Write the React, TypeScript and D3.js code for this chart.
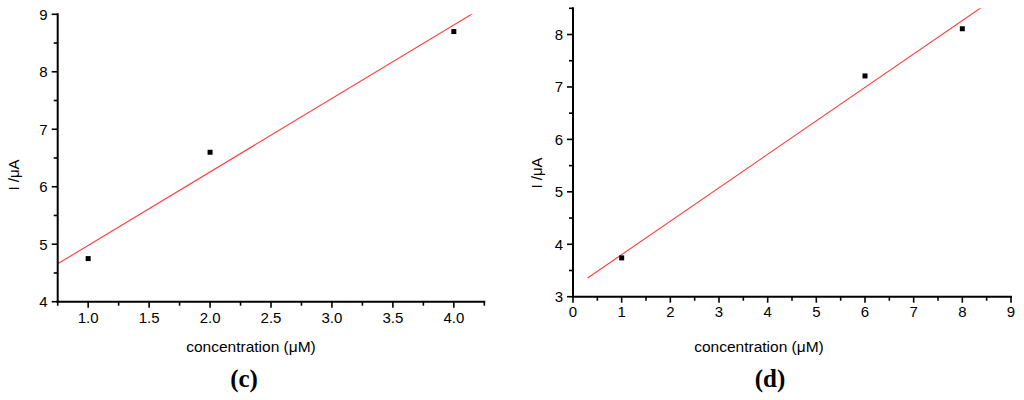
import { useRef, useEffect } from 'react';
import * as d3 from 'd3';

// panel (c)
const concC = [1, 2, 4];
const currentC = [4.75, 6.6, 8.7];
const xDomainC = [0.75, 4.25];
const yDomainC = [4, 9];
const xTicksC = [1.0, 1.5, 2.0, 2.5, 3.0, 3.5, 4.0];
const yTicksC = [4, 5, 6, 7, 8, 9];
const fitRangeC = [0.75, 4.25];

// panel (d)
const concD = [1, 6, 8];
const currentD = [3.74, 7.21, 8.11];
const xDomainD = [0, 9];
const yDomainD = [3, 8.5];
const xTicksD = [0, 1, 2, 3, 4, 5, 6, 7, 8, 9];
const yTicksD = [3, 4, 5, 6, 7, 8];
const fitRangeD = [0.3, 8.5];

const FONT = '"Liberation Sans", Arial, sans-serif';

function isMajor(v, ticks) {
  return ticks.some(t => Math.abs(t - v) < 1e-6);
}

function drawPanel(svg, o) {
  const x = d3.scaleLinear().domain(o.xDomain).range(o.xRange);
  const y = d3.scaleLinear().domain(o.yDomain).range(o.yRange);
  const g = svg.append('g');

  const clipId = 'clip-' + o.id;
  svg.append('clipPath').attr('id', clipId).append('rect')
    .attr('x', o.xRange[0]).attr('y', o.yRange[1])
    .attr('width', o.xRange[1] - o.xRange[0]).attr('height', o.yRange[0] - o.yRange[1]);

  // least squares fit line
  const xm = d3.mean(o.xs), ym = d3.mean(o.ys);
  const num = d3.sum(o.xs, (v, i) => (v - xm) * (o.ys[i] - ym));
  const den = d3.sum(o.xs, v => (v - xm) ** 2);
  const slope = num / den;
  const icpt = ym - slope * xm;
  g.append('line')
    .attr('clip-path', `url(#${clipId})`)
    .attr('x1', x(o.fitRange[0])).attr('y1', y(icpt + slope * o.fitRange[0]))
    .attr('x2', x(o.fitRange[1])).attr('y2', y(icpt + slope * o.fitRange[1]))
    .attr('stroke', '#ff3b3b').attr('stroke-width', 1.1);

  // points
  g.selectAll('rect.pt').data(o.xs).enter().append('rect')
    .attr('class', 'pt')
    .attr('x', (d) => x(d) - 2.5)
    .attr('y', (d, i) => y(o.ys[i]) - 2.5)
    .attr('width', 5).attr('height', 5)
    .attr('fill', '#000');

  // x axis
  const xa = g.append('g').attr('transform', `translate(0,${o.yRange[0]})`);
  xa.append('line').attr('x1', o.xRange[0] - 1).attr('x2', o.xRange[1] + 1)
    .attr('stroke', '#000').attr('stroke-width', 2);
  const xMinor = d3.range(o.xDomain[0], o.xDomain[1] + 1e-9, o.xMinorStep);
  xa.selectAll('line.tk').data(xMinor).enter().append('line')
    .attr('x1', d => x(d)).attr('x2', d => x(d))
    .attr('y1', 0).attr('y2', d => (isMajor(d, o.xTicks) ? 6 : 4))
    .attr('stroke', '#000').attr('stroke-width', 1.6);
  xa.selectAll('text').data(o.xTicks).enter().append('text')
    .attr('x', d => x(d)).attr('y', o.xLabelDy)
    .attr('text-anchor', 'middle').attr('font-family', FONT).attr('font-size', 15)
    .text(d => o.xFormat(d));

  // y axis
  const ya = g.append('g').attr('transform', `translate(${o.xRange[0]},0)`);
  ya.append('line').attr('y1', o.yRange[0] + 1).attr('y2', o.yRange[1] - 1)
    .attr('stroke', '#000').attr('stroke-width', 2);
  const yMinor = d3.range(o.yDomain[0], o.yDomain[1] + 1e-9, 0.5);
  ya.selectAll('line.tk').data(yMinor).enter().append('line')
    .attr('y1', d => y(d)).attr('y2', d => y(d))
    .attr('x1', 0).attr('x2', d => (isMajor(d, o.yTicks) ? -6 : -4))
    .attr('stroke', '#000').attr('stroke-width', 1.6);
  ya.selectAll('text').data(o.yTicks).enter().append('text')
    .attr('x', -10).attr('y', d => y(d)).attr('dy', '0.36em')
    .attr('text-anchor', 'end').attr('font-family', FONT).attr('font-size', 15)
    .text(d => String(d));

  // titles
  g.append('text')
    .attr('transform', `translate(${o.yTitleX},${o.yTitleY}) rotate(-90)`)
    .attr('text-anchor', 'middle').attr('dy', '0.36em')
    .attr('font-family', FONT).attr('font-size', 15)
    .text('I /μA');
  g.append('text')
    .attr('x', o.xTitleX).attr('y', 346).attr('dy', '0.36em')
    .attr('text-anchor', 'middle').attr('font-family', FONT).attr('font-size', 15.5)
    .text('concentration (μM)');
  g.append('text')
    .attr('x', o.capX).attr('y', 378).attr('dy', '0.36em')
    .attr('text-anchor', 'middle').attr('font-family', '"Liberation Serif", "Times New Roman", serif')
    .attr('font-size', 25).attr('font-weight', 'bold')
    .text(o.caption);
}

export default function App() {
  const svgRef = useRef(null);

  useEffect(() => {
    const svg = d3.select(svgRef.current);
    svg.selectAll('*').remove();

    drawPanel(svg, {
      id: 'c', xs: concC, ys: currentC,
      xDomain: xDomainC, yDomain: yDomainC,
      xRange: [57.7, 484.3], yRange: [301.7, 14.3],
      xTicks: xTicksC, yTicks: yTicksC, xMinorStep: 0.25,
      xFormat: d3.format('.1f'), xLabelDy: 21,
      fitRange: fitRangeC,
      yTitleX: 14, yTitleY: 175, xTitleX: 251, capX: 244, caption: '(c)',
    });

    drawPanel(svg, {
      id: 'd', xs: concD, ys: currentD,
      xDomain: xDomainD, yDomain: yDomainD,
      xRange: [573, 1011], yRange: [296.7, 8.3],
      xTicks: xTicksD, yTicks: yTicksD, xMinorStep: 0.5,
      xFormat: d3.format('d'), xLabelDy: 20,
      fitRange: fitRangeD,
      yTitleX: 537, yTitleY: 173, xTitleX: 759, capX: 770, caption: '(d)',
    });
  }, []);

  return (
    <svg ref={svgRef} width={1024} height={400}
      style={{ position: 'absolute', left: 0, top: 0, background: '#fff' }} />
  );
}
